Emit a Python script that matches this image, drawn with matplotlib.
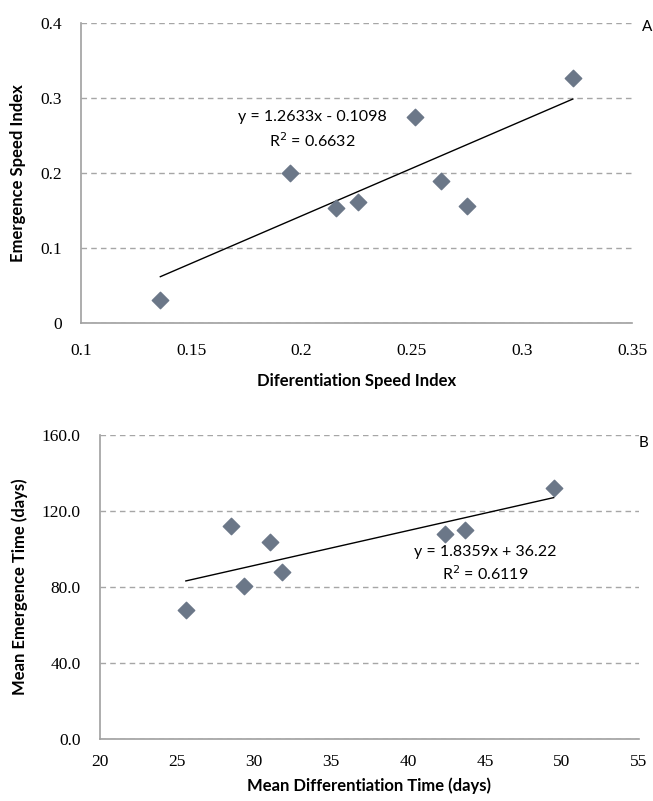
import numpy as np
import matplotlib.pyplot as plt
from matplotlib.ticker import FuncFormatter

# panel A data
dsi = [0.136, 0.1946, 0.2159, 0.2256, 0.2513, 0.2634, 0.2753, 0.3231]
esi = [0.031, 0.200, 0.153, 0.162, 0.274, 0.189, 0.156, 0.327]
fit_a = (1.2633, -0.1098)

# panel B data
mdt = [25.58, 28.48, 29.38, 31.03, 31.82, 42.38, 43.71, 49.46]
met = [67.9, 111.9, 80.4, 103.5, 88.1, 107.9, 110.1, 132.1]
fit_b = (1.8359, 36.22)

MARK = '#6b7788'
GRID = '#a6a6a6'
TICKFONT = 'Liberation Serif'
LABFONT = 'Lato'

fig = plt.figure(figsize=(6.53, 8.01), dpi=100)
axA = fig.add_axes([0.124, 0.5964, 0.844, 0.3753])
axB = fig.add_axes([0.153, 0.0774, 0.8256, 0.3796])


def style(ax):
    for s in ['top', 'right']:
        ax.spines[s].set_visible(False)
    for s in ['left', 'bottom']:
        ax.spines[s].set_color('#a0a0a0')
        ax.spines[s].set_linewidth(1.2)
    ax.tick_params(length=0, pad=14, labelsize=12.5)
    ax.yaxis.grid(True, linestyle=(0, (4, 3)), color=GRID, linewidth=1)
    ax.set_axisbelow(True)
    for lab in ax.get_xticklabels() + ax.get_yticklabels():
        lab.set_family(TICKFONT)


# --- A ---
axA.scatter(dsi, esi, marker='D', s=70, color=MARK, zorder=3)
xa = np.array([min(dsi), max(dsi)])
axA.plot(xa, fit_a[0] * xa + fit_a[1], color='black', lw=1, zorder=2)
axA.set_xlim(0.1, 0.35)
axA.set_ylim(0, 0.4)
axA.set_xticks([0.1, 0.15, 0.2, 0.25, 0.3, 0.35])
axA.set_yticks([0, 0.1, 0.2, 0.3, 0.4])
axA.xaxis.set_major_formatter(FuncFormatter(lambda v, p: ('%g' % round(v, 2))))
axA.yaxis.set_major_formatter(FuncFormatter(lambda v, p: ('%g' % round(v, 2))))
style(axA)
axA.text(0.205, 0.274, 'y = 1.2633x - 0.1098', ha='center', va='center',
         fontsize=11.5, family=LABFONT)
axA.text(0.205, 0.243, 'R$^2$ = 0.6632', ha='center', va='center',
         fontsize=11.5, family=LABFONT)
axA.set_xlabel('Diferentiation Speed Index', fontsize=12, fontweight='bold',
               family=LABFONT, labelpad=10)
axA.set_ylabel('Emergence Speed Index', fontsize=12, fontweight='bold',
               family=LABFONT, labelpad=10)
fig.text(647 / 653, 1 - 27 / 801, 'A', ha='center', va='center', fontsize=11,
         family=LABFONT)

# --- B ---
axB.scatter(mdt, met, marker='D', s=70, color=MARK, zorder=3)
xb = np.array([min(mdt), max(mdt)])
axB.plot(xb, fit_b[0] * xb + fit_b[1], color='black', lw=1, zorder=2)
axB.set_xlim(20, 55)
axB.set_ylim(0, 160)
axB.set_xticks(range(20, 56, 5))
axB.set_yticks([0, 40, 80, 120, 160])
axB.yaxis.set_major_formatter(FuncFormatter(lambda v, p: '%.1f' % v))
style(axB)
axB.tick_params(axis='x', pad=11)
axB.text(45.0, 98.3, 'y = 1.8359x + 36.22', ha='center', va='center',
         fontsize=11.5, family=LABFONT)
axB.text(45.0, 86.9, 'R$^2$ = 0.6119', ha='center', va='center',
         fontsize=11.5, family=LABFONT)
axB.set_xlabel('Mean Differentiation Time (days)', fontsize=12, fontweight='bold',
               family=LABFONT, labelpad=5)
axB.set_ylabel('Mean Emergence Time (days)', fontsize=12, fontweight='bold',
               family=LABFONT, labelpad=10)
fig.text(644 / 653, 1 - 443 / 801, 'B', ha='center', va='center', fontsize=11,
         family=LABFONT)

fig.savefig('out.png', dpi=100)
